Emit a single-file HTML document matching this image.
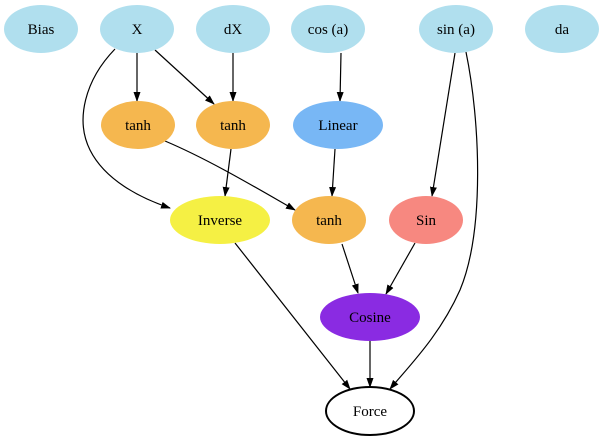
<!DOCTYPE html>
<html><head><meta charset="utf-8"><style>html,body{margin:0;padding:0;background:#fff}svg{display:block}</style></head>
<body>
<svg width="604" height="443" viewBox="0 0 604 443" xmlns="http://www.w3.org/2000/svg" font-family="'Liberation Serif', serif" font-size="15">
<defs><marker id="a" viewBox="0 0 10 10" refX="9" refY="5" markerWidth="10" markerHeight="10" markerUnits="userSpaceOnUse" orient="auto"><path d="M0,1.5 L10,5 L0,8.5 z" fill="#000"/></marker></defs>
<g fill="none" stroke="#000" stroke-width="1.2" marker-end="url(#a)">
<path d="M137,53 L137,101"/>
<path d="M155,50 L214,104"/>
<path d="M115,49 C85,80 75,120 90,150 C105,180 140,198 170,208"/>
<path d="M233,53 L233,101"/>
<path d="M341,53 L340,101"/>
<path d="M165,141 C210,160 260,190 295,210"/>
<path d="M231,149 L225,196"/>
<path d="M335,149 L332,196"/>
<path d="M455,53 L432,196"/>
<path d="M466,52 C480,120 485,230 460,290 C440,335 410,365 390,389"/>
<path d="M342,244 L358,293"/>
<path d="M415,243 L386,294"/>
<path d="M370,341 L370,387"/>
<path d="M235,243 L350,389"/>
</g>
<g stroke="none">
<ellipse cx="41" cy="29" rx="37" ry="24" fill="#b0dfee"/>
<ellipse cx="137" cy="29" rx="37" ry="24" fill="#b0dfee"/>
<ellipse cx="233" cy="29" rx="37" ry="24" fill="#b0dfee"/>
<ellipse cx="328" cy="29" rx="37" ry="24" fill="#b0dfee"/>
<ellipse cx="456" cy="29" rx="37" ry="24" fill="#b0dfee"/>
<ellipse cx="562" cy="29" rx="37" ry="24" fill="#b0dfee"/>
<ellipse cx="138" cy="125" rx="37" ry="24" fill="#f5b74f"/>
<ellipse cx="233" cy="125" rx="37" ry="24" fill="#f5b74f"/>
<ellipse cx="338" cy="125" rx="45" ry="24" fill="#78b7f5"/>
<ellipse cx="220" cy="220" rx="50" ry="24" fill="#f5f044"/>
<ellipse cx="329" cy="220" rx="37" ry="24" fill="#f5b74f"/>
<ellipse cx="426" cy="220" rx="37" ry="24" fill="#f78880"/>
<ellipse cx="370" cy="317" rx="50" ry="24" fill="#8a2be2"/>
</g>
<ellipse cx="370" cy="411" rx="44" ry="24" fill="#fff" stroke="#000" stroke-width="2"/>
<g text-anchor="middle" fill="#000">
<text x="41" y="34">Bias</text>
<text x="137" y="34">X</text>
<text x="233" y="34">dX</text>
<text x="328" y="34">cos (a)</text>
<text x="456" y="34">sin (a)</text>
<text x="562" y="34">da</text>
<text x="138" y="130">tanh</text>
<text x="233" y="130">tanh</text>
<text x="338" y="130">Linear</text>
<text x="220" y="225">Inverse</text>
<text x="329" y="225">tanh</text>
<text x="426" y="225">Sin</text>
<text x="370" y="322">Cosine</text>
<text x="370" y="416">Force</text>
</g>
</svg>
</body></html>
